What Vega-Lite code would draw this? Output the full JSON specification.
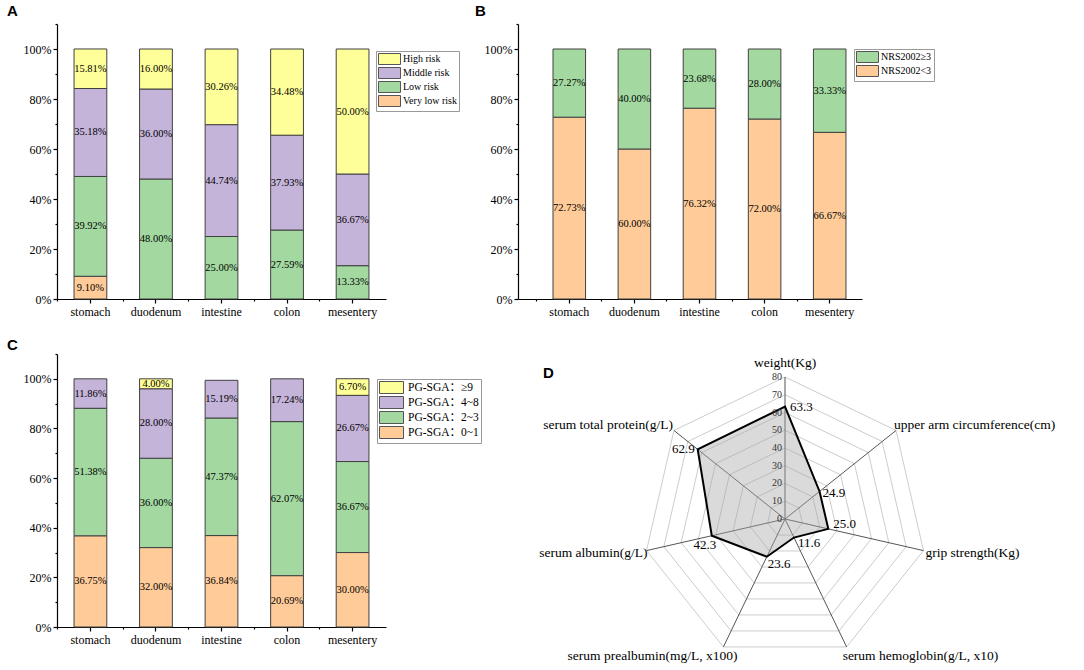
{
  "$schema": "https://vega.github.io/schema/vega-lite/v6.json",
  "background": "white",
  "padding": {"left": 7, "top": 4, "right": 0, "bottom": 0},
  "config": {
    "view": {"stroke": null},
    "font": "Liberation Serif",
    "axis": {"labelFont": "Liberation Serif", "labelFontSize": 12, "labelColor": "black", "domainColor": "black", "tickColor": "black", "title": null, "grid": false, "tickSize": 5, "domainWidth": 1.2, "tickWidth": 1.2},
    "title": {"font": "Liberation Sans", "fontSize": 15, "fontWeight": "bold", "color": "black", "anchor": "start", "frame": "group"},
    "legend": {"orient": "none", "title": null, "labelFont": "Liberation Serif", "labelColor": "black", "labelFontSize": 10, "strokeColor": "#999", "fillColor": "white", "padding": 2, "rowPadding": -3, "symbolStrokeColor": "#555", "symbolStrokeWidth": 1, "symbolOpacity": 1}
  },
  "resolve": {"scale": {"color": "independent", "x": "independent", "y": "independent"}, "legend": {"color": "independent"}},
  "datasets": {
    "radar": [
      {"k": 0, "name": "weight(Kg)", "value": 63.3},
      {"k": 1, "name": "upper arm circumference(cm)", "value": 24.9},
      {"k": 2, "name": "grip strength(Kg)", "value": 25.0},
      {"k": 3, "name": "serum hemoglobin(g/L, x10)", "value": 11.6},
      {"k": 4, "name": "serum prealbumin(mg/L, x100)", "value": 23.6},
      {"k": 5, "name": "serum albumin(g/L)", "value": 42.3},
      {"k": 6, "name": "serum total protein(g/L)", "value": 62.9}
    ],
    "grid": [
      {"level": 0, "k": [0, 1, 2, 3, 4, 5, 6]},
      {"level": 10, "k": [0, 1, 2, 3, 4, 5, 6]},
      {"level": 20, "k": [0, 1, 2, 3, 4, 5, 6]},
      {"level": 30, "k": [0, 1, 2, 3, 4, 5, 6]},
      {"level": 40, "k": [0, 1, 2, 3, 4, 5, 6]},
      {"level": 50, "k": [0, 1, 2, 3, 4, 5, 6]},
      {"level": 60, "k": [0, 1, 2, 3, 4, 5, 6]},
      {"level": 70, "k": [0, 1, 2, 3, 4, 5, 6]},
      {"level": 80, "k": [0, 1, 2, 3, 4, 5, 6]}
    ]
  },
  "columns": 2,
  "spacing": {"row": 55, "column": 132},
  "bounds": "flush",
  "concat": [
    {
      "width": 329, "height": 275,
      "title": {"text": "A", "dx": -50, "offset": 4},
      "data": {"values": [
        {"organ": "stomach", "level": "Very low risk", "pct": 9.10},
        {"organ": "stomach", "level": "Low risk", "pct": 39.92},
        {"organ": "stomach", "level": "Middle risk", "pct": 35.18},
        {"organ": "stomach", "level": "High risk", "pct": 15.81},
        {"organ": "duodenum", "level": "Low risk", "pct": 48.00},
        {"organ": "duodenum", "level": "Middle risk", "pct": 36.00},
        {"organ": "duodenum", "level": "High risk", "pct": 16.00},
        {"organ": "intestine", "level": "Low risk", "pct": 25.00},
        {"organ": "intestine", "level": "Middle risk", "pct": 44.74},
        {"organ": "intestine", "level": "High risk", "pct": 30.26},
        {"organ": "colon", "level": "Low risk", "pct": 27.59},
        {"organ": "colon", "level": "Middle risk", "pct": 37.93},
        {"organ": "colon", "level": "High risk", "pct": 34.48},
        {"organ": "mesentery", "level": "Low risk", "pct": 13.33},
        {"organ": "mesentery", "level": "Middle risk", "pct": 36.67},
        {"organ": "mesentery", "level": "High risk", "pct": 50.00}
      ]},
      "transform": [
        {"calculate": "indexof(['Very low risk','Low risk','Middle risk','High risk'], datum.level)", "as": "ord"},
        {"stack": "pct", "groupby": ["organ"], "sort": [{"field": "ord", "order": "ascending"}], "as": ["y0", "y1"]},
        {"calculate": "(datum.y0 + datum.y1) / 2", "as": "ym"},
        {"calculate": "format(datum.pct, '.2f') + '%'", "as": "lab"}
      ],
      "resolve": {"axis": {"x": "independent", "y": "independent"}},
      "layer": [
        {
          "mark": {"type": "bar", "stroke": "#404040", "strokeWidth": 1},
          "encoding": {
            "x": {"field": "organ", "type": "nominal", "sort": ["stomach", "duodenum", "intestine", "colon", "mesentery"], "scale": {"paddingInner": 0.5, "paddingOuter": 0.26}, "axis": {"labelAngle": 0, "labelPadding": 3, "tickSize": 4}},
            "y": {"field": "y0", "type": "quantitative", "scale": {"domain": [0, 110], "nice": false}, "axis": {"values": [0, 20, 40, 60, 80, 100], "labelExpr": "datum.value + '%'", "tickSize": 4}},
            "y2": {"field": "y1"},
            "color": {"field": "level", "type": "nominal", "scale": {"domain": ["High risk", "Middle risk", "Low risk", "Very low risk"], "range": ["#FFFF99", "#C5B4DA", "#A3D9A1", "#FFCB99"]},
              "legend": {"legendX": 319, "legendY": 27, "symbolType": "M-1,-1H3V1H-1Z", "symbolSize": 121, "labelOffset": 13}}
          }
        },
        {
          "mark": {"type": "text", "fontSize": 10.5, "color": "black", "baseline": "middle", "font": "Liberation Serif"},
          "encoding": {
            "x": {"field": "organ", "type": "nominal", "sort": ["stomach", "duodenum", "intestine", "colon", "mesentery"], "axis": {"labels": false, "domain": false, "tickSize": 2, "bandPosition": -0.5, "orient": "bottom"}},
            "y": {"field": "ym", "type": "quantitative", "axis": {"values": [10, 30, 50, 70, 90, 110], "labels": false, "domain": false, "tickSize": 2, "orient": "left"}},
            "text": {"field": "lab"}
          }
        }
      ]
    },
    {
      "width": 344, "height": 275,
      "title": {"text": "B", "dx": -43, "offset": 4},
      "data": {"values": [
        {"organ": "stomach", "level": "NRS2002<3", "pct": 72.73},
        {"organ": "stomach", "level": "NRS2002≥3", "pct": 27.27},
        {"organ": "duodenum", "level": "NRS2002<3", "pct": 60.00},
        {"organ": "duodenum", "level": "NRS2002≥3", "pct": 40.00},
        {"organ": "intestine", "level": "NRS2002<3", "pct": 76.32},
        {"organ": "intestine", "level": "NRS2002≥3", "pct": 23.68},
        {"organ": "colon", "level": "NRS2002<3", "pct": 72.00},
        {"organ": "colon", "level": "NRS2002≥3", "pct": 28.00},
        {"organ": "mesentery", "level": "NRS2002<3", "pct": 66.67},
        {"organ": "mesentery", "level": "NRS2002≥3", "pct": 33.33}
      ]},
      "transform": [
        {"calculate": "indexof(['NRS2002<3','NRS2002≥3'], datum.level)", "as": "ord"},
        {"stack": "pct", "groupby": ["organ"], "sort": [{"field": "ord", "order": "ascending"}], "as": ["y0", "y1"]},
        {"calculate": "(datum.y0 + datum.y1) / 2", "as": "ym"},
        {"calculate": "format(datum.pct, '.2f') + '%'", "as": "lab"}
      ],
      "resolve": {"axis": {"x": "independent", "y": "independent"}},
      "layer": [
        {
          "mark": {"type": "bar", "stroke": "#404040", "strokeWidth": 1},
          "encoding": {
            "x": {"field": "organ", "type": "nominal", "sort": ["stomach", "duodenum", "intestine", "colon", "mesentery"], "scale": {"paddingInner": 0.5, "paddingOuter": 0.392, "align": 0.686}, "axis": {"labelAngle": 0, "labelPadding": 3, "tickSize": 4}},
            "y": {"field": "y0", "type": "quantitative", "scale": {"domain": [0, 110], "nice": false}, "axis": {"values": [0, 20, 40, 60, 80, 100], "labelExpr": "datum.value + '%'", "tickSize": 4}},
            "y2": {"field": "y1"},
            "color": {"field": "level", "type": "nominal", "scale": {"domain": ["NRS2002≥3", "NRS2002<3"], "range": ["#A3D9A1", "#FFCB99"]},
              "legend": {"legendX": 336, "legendY": 25, "symbolType": "M-1,-1H3V1H-1Z", "symbolSize": 121, "labelOffset": 13}}
          }
        },
        {
          "mark": {"type": "text", "fontSize": 10.5, "color": "black", "baseline": "middle", "font": "Liberation Serif"},
          "encoding": {
            "x": {"field": "organ", "type": "nominal", "sort": ["stomach", "duodenum", "intestine", "colon", "mesentery"], "axis": {"labels": false, "domain": false, "tickSize": 2, "bandPosition": -0.5, "orient": "bottom"}},
            "y": {"field": "ym", "type": "quantitative", "axis": {"values": [10, 30, 50, 70, 90, 110], "labels": false, "domain": false, "tickSize": 2, "orient": "left"}},
            "text": {"field": "lab"}
          }
        }
      ]
    },
    {
      "width": 329, "height": 273,
      "title": {"text": "C", "dx": -50, "offset": 0},
      "data": {"values": [
        {"organ": "stomach", "level": "PG-SGA：0~1", "pct": 36.75},
        {"organ": "stomach", "level": "PG-SGA：2~3", "pct": 51.38},
        {"organ": "stomach", "level": "PG-SGA：4~8", "pct": 11.86},
        {"organ": "duodenum", "level": "PG-SGA：0~1", "pct": 32.00},
        {"organ": "duodenum", "level": "PG-SGA：2~3", "pct": 36.00},
        {"organ": "duodenum", "level": "PG-SGA：4~8", "pct": 28.00},
        {"organ": "duodenum", "level": "PG-SGA：≥9", "pct": 4.00},
        {"organ": "intestine", "level": "PG-SGA：0~1", "pct": 36.84},
        {"organ": "intestine", "level": "PG-SGA：2~3", "pct": 47.37},
        {"organ": "intestine", "level": "PG-SGA：4~8", "pct": 15.19},
        {"organ": "colon", "level": "PG-SGA：0~1", "pct": 20.69},
        {"organ": "colon", "level": "PG-SGA：2~3", "pct": 62.07},
        {"organ": "colon", "level": "PG-SGA：4~8", "pct": 17.24},
        {"organ": "mesentery", "level": "PG-SGA：0~1", "pct": 30.00},
        {"organ": "mesentery", "level": "PG-SGA：2~3", "pct": 36.67},
        {"organ": "mesentery", "level": "PG-SGA：4~8", "pct": 26.67},
        {"organ": "mesentery", "level": "PG-SGA：≥9", "pct": 6.70}
      ]},
      "transform": [
        {"calculate": "indexof(['PG-SGA：0~1','PG-SGA：2~3','PG-SGA：4~8','PG-SGA：≥9'], datum.level)", "as": "ord"},
        {"stack": "pct", "groupby": ["organ"], "sort": [{"field": "ord", "order": "ascending"}], "as": ["y0", "y1"]},
        {"calculate": "(datum.y0 + datum.y1) / 2", "as": "ym"},
        {"calculate": "format(datum.pct, '.2f') + '%'", "as": "lab"}
      ],
      "resolve": {"axis": {"x": "independent", "y": "independent"}},
      "layer": [
        {
          "mark": {"type": "bar", "stroke": "#404040", "strokeWidth": 1},
          "encoding": {
            "x": {"field": "organ", "type": "nominal", "sort": ["stomach", "duodenum", "intestine", "colon", "mesentery"], "scale": {"paddingInner": 0.5, "paddingOuter": 0.26}, "axis": {"labelAngle": 0, "labelPadding": 3, "tickSize": 4}},
            "y": {"field": "y0", "type": "quantitative", "scale": {"domain": [0, 110], "nice": false}, "axis": {"values": [0, 20, 40, 60, 80, 100], "labelExpr": "datum.value + '%'", "tickSize": 4}},
            "y2": {"field": "y1"},
            "color": {"field": "level", "type": "nominal", "scale": {"domain": ["PG-SGA：≥9", "PG-SGA：4~8", "PG-SGA：2~3", "PG-SGA：0~1"], "range": ["#FFFF99", "#C5B4DA", "#A3D9A1", "#FFCB99"]},
              "legend": {"legendX": 320, "legendY": 25, "symbolType": "M-1,-1H3V1H-1Z", "symbolSize": 144, "labelOffset": 16, "labelFontSize": 11.5, "rowPadding": -3.3, "labelFont": "Liberation Serif, Noto Sans CJK SC"}}
          }
        },
        {
          "mark": {"type": "text", "fontSize": 10.5, "color": "black", "baseline": "middle", "font": "Liberation Serif"},
          "encoding": {
            "x": {"field": "organ", "type": "nominal", "sort": ["stomach", "duodenum", "intestine", "colon", "mesentery"], "axis": {"labels": false, "domain": false, "tickSize": 2, "bandPosition": -0.5, "orient": "bottom"}},
            "y": {"field": "ym", "type": "quantitative", "axis": {"values": [10, 30, 50, 70, 90, 110], "labels": false, "domain": false, "tickSize": 2, "orient": "left"}},
            "text": {"field": "lab"}
          }
        }
      ]
    },
    {
      "width": 542, "height": 300,
      "title": {"text": "D", "dx": 25, "offset": -27},
      "encoding": {
        "x": {"field": "X", "type": "quantitative", "scale": {"domain": [-150.4, 154.9], "nice": false, "zero": false}, "axis": null},
        "y": {"field": "Y", "type": "quantitative", "scale": {"domain": [-76.06, 92.96], "nice": false, "zero": false}, "axis": null}
      },
      "layer": [
        {
          "data": {"name": "grid"},
          "transform": [
            {"flatten": ["k"]},
            {"calculate": "datum.level * sin(2 * PI * datum.k / 7)", "as": "X"},
            {"calculate": "datum.level * cos(2 * PI * datum.k / 7)", "as": "Y"}
          ],
          "mark": {"type": "line", "interpolate": "linear-closed", "stroke": "#cccccc", "strokeWidth": 1},
          "encoding": {"detail": {"field": "level", "type": "nominal"}, "order": {"field": "k", "type": "quantitative"}}
        },
        {
          "data": {"name": "radar"},
          "transform": [
            {"calculate": "80 * sin(2 * PI * datum.k / 7)", "as": "X"},
            {"calculate": "80 * cos(2 * PI * datum.k / 7)", "as": "Y"}
          ],
          "mark": {"type": "rule", "stroke": "#555555", "strokeWidth": 1},
          "encoding": {"x2": {"datum": 0}, "y2": {"datum": 0}}
        },
        {
          "data": {"name": "radar"},
          "transform": [
            {"calculate": "datum.value * sin(2 * PI * datum.k / 7)", "as": "X"},
            {"calculate": "datum.value * cos(2 * PI * datum.k / 7)", "as": "Y"}
          ],
          "mark": {"type": "line", "interpolate": "linear-closed", "stroke": "black", "strokeWidth": 2, "fill": "#a8a8a8", "fillOpacity": 0.42},
          "encoding": {"order": {"field": "k", "type": "quantitative"}}
        },
        {
          "data": {"name": "grid"},
          "transform": [
            {"calculate": "0", "as": "X"},
            {"calculate": "datum.level", "as": "Y"}
          ],
          "mark": {"type": "text", "align": "right", "baseline": "middle", "dx": -3, "fontSize": 10, "color": "#333333", "font": "Liberation Serif"},
          "encoding": {"text": {"field": "level", "type": "quantitative"}}
        },
        {
          "data": {"name": "radar"},
          "transform": [{"filter": "datum.k == 0"}, {"calculate": "datum.value * sin(2 * PI * datum.k / 7)", "as": "X"}, {"calculate": "datum.value * cos(2 * PI * datum.k / 7)", "as": "Y"}],
          "mark": {"type": "text", "align": "left", "baseline": "middle", "dx": 5, "dy": 0, "fontSize": 13, "color": "black", "font": "Liberation Serif"},
          "encoding": {"text": {"field": "value", "type": "quantitative", "format": ".1f"}}
        },
        {
          "data": {"name": "radar"},
          "transform": [{"filter": "datum.k == 1"}, {"calculate": "datum.value * sin(2 * PI * datum.k / 7)", "as": "X"}, {"calculate": "datum.value * cos(2 * PI * datum.k / 7)", "as": "Y"}],
          "mark": {"type": "text", "align": "left", "baseline": "middle", "dx": 3, "dy": 2, "fontSize": 13, "color": "black", "font": "Liberation Serif"},
          "encoding": {"text": {"field": "value", "type": "quantitative", "format": ".1f"}}
        },
        {
          "data": {"name": "radar"},
          "transform": [{"filter": "datum.k == 2"}, {"calculate": "datum.value * sin(2 * PI * datum.k / 7)", "as": "X"}, {"calculate": "datum.value * cos(2 * PI * datum.k / 7)", "as": "Y"}],
          "mark": {"type": "text", "align": "left", "baseline": "middle", "dx": 5, "dy": -5, "fontSize": 13, "color": "black", "font": "Liberation Serif"},
          "encoding": {"text": {"field": "value", "type": "quantitative", "format": ".1f"}}
        },
        {
          "data": {"name": "radar"},
          "transform": [{"filter": "datum.k == 3"}, {"calculate": "datum.value * sin(2 * PI * datum.k / 7)", "as": "X"}, {"calculate": "datum.value * cos(2 * PI * datum.k / 7)", "as": "Y"}],
          "mark": {"type": "text", "align": "left", "baseline": "middle", "dx": 4, "dy": 5, "fontSize": 13, "color": "black", "font": "Liberation Serif"},
          "encoding": {"text": {"field": "value", "type": "quantitative", "format": ".1f"}}
        },
        {
          "data": {"name": "radar"},
          "transform": [{"filter": "datum.k == 4"}, {"calculate": "datum.value * sin(2 * PI * datum.k / 7)", "as": "X"}, {"calculate": "datum.value * cos(2 * PI * datum.k / 7)", "as": "Y"}],
          "mark": {"type": "text", "align": "left", "baseline": "middle", "dx": 1, "dy": 7, "fontSize": 13, "color": "black", "font": "Liberation Serif"},
          "encoding": {"text": {"field": "value", "type": "quantitative", "format": ".1f"}}
        },
        {
          "data": {"name": "radar"},
          "transform": [{"filter": "datum.k == 5"}, {"calculate": "datum.value * sin(2 * PI * datum.k / 7)", "as": "X"}, {"calculate": "datum.value * cos(2 * PI * datum.k / 7)", "as": "Y"}],
          "mark": {"type": "text", "align": "center", "baseline": "middle", "dx": -7, "dy": 9, "fontSize": 13, "color": "black", "font": "Liberation Serif"},
          "encoding": {"text": {"field": "value", "type": "quantitative", "format": ".1f"}}
        },
        {
          "data": {"name": "radar"},
          "transform": [{"filter": "datum.k == 6"}, {"calculate": "datum.value * sin(2 * PI * datum.k / 7)", "as": "X"}, {"calculate": "datum.value * cos(2 * PI * datum.k / 7)", "as": "Y"}],
          "mark": {"type": "text", "align": "right", "baseline": "middle", "dx": -3, "dy": 0, "fontSize": 13, "color": "black", "font": "Liberation Serif"},
          "encoding": {"text": {"field": "value", "type": "quantitative", "format": ".1f"}}
        },
        {
          "data": {"name": "radar"},
          "transform": [{"filter": "datum.k == 0"}, {"calculate": "80 * sin(2 * PI * datum.k / 7)", "as": "X"}, {"calculate": "80 * cos(2 * PI * datum.k / 7)", "as": "Y"}],
          "mark": {"type": "text", "align": "center", "baseline": "middle", "dx": 0, "dy": -14, "fontSize": 13.5, "color": "black", "font": "Liberation Serif"},
          "encoding": {"text": {"field": "name"}}
        },
        {
          "data": {"name": "radar"},
          "transform": [{"filter": "datum.k == 1"}, {"calculate": "80 * sin(2 * PI * datum.k / 7)", "as": "X"}, {"calculate": "80 * cos(2 * PI * datum.k / 7)", "as": "Y"}],
          "mark": {"type": "text", "align": "left", "baseline": "middle", "dx": -2, "dy": -5, "fontSize": 13.5, "color": "black", "font": "Liberation Serif"},
          "encoding": {"text": {"field": "name"}}
        },
        {
          "data": {"name": "radar"},
          "transform": [{"filter": "datum.k == 2"}, {"calculate": "80 * sin(2 * PI * datum.k / 7)", "as": "X"}, {"calculate": "80 * cos(2 * PI * datum.k / 7)", "as": "Y"}],
          "mark": {"type": "text", "align": "left", "baseline": "middle", "dx": 2, "dy": 2, "fontSize": 13.5, "color": "black", "font": "Liberation Serif"},
          "encoding": {"text": {"field": "name"}}
        },
        {
          "data": {"name": "radar"},
          "transform": [{"filter": "datum.k == 3"}, {"calculate": "80 * sin(2 * PI * datum.k / 7)", "as": "X"}, {"calculate": "80 * cos(2 * PI * datum.k / 7)", "as": "Y"}],
          "mark": {"type": "text", "align": "left", "baseline": "middle", "dx": -4, "dy": 9, "fontSize": 13.5, "color": "black", "font": "Liberation Serif"},
          "encoding": {"text": {"field": "name"}}
        },
        {
          "data": {"name": "radar"},
          "transform": [{"filter": "datum.k == 4"}, {"calculate": "80 * sin(2 * PI * datum.k / 7)", "as": "X"}, {"calculate": "80 * cos(2 * PI * datum.k / 7)", "as": "Y"}],
          "mark": {"type": "text", "align": "right", "baseline": "middle", "dx": 14, "dy": 9, "fontSize": 13.5, "color": "black", "font": "Liberation Serif"},
          "encoding": {"text": {"field": "name"}}
        },
        {
          "data": {"name": "radar"},
          "transform": [{"filter": "datum.k == 5"}, {"calculate": "80 * sin(2 * PI * datum.k / 7)", "as": "X"}, {"calculate": "80 * cos(2 * PI * datum.k / 7)", "as": "Y"}],
          "mark": {"type": "text", "align": "right", "baseline": "middle", "dx": 1, "dy": 2, "fontSize": 13.5, "color": "black", "font": "Liberation Serif"},
          "encoding": {"text": {"field": "name"}}
        },
        {
          "data": {"name": "radar"},
          "transform": [{"filter": "datum.k == 6"}, {"calculate": "80 * sin(2 * PI * datum.k / 7)", "as": "X"}, {"calculate": "80 * cos(2 * PI * datum.k / 7)", "as": "Y"}],
          "mark": {"type": "text", "align": "right", "baseline": "middle", "dx": -1, "dy": -5, "fontSize": 13.5, "color": "black", "font": "Liberation Serif"},
          "encoding": {"text": {"field": "name"}}
        }
      ]
    }
  ]
}
